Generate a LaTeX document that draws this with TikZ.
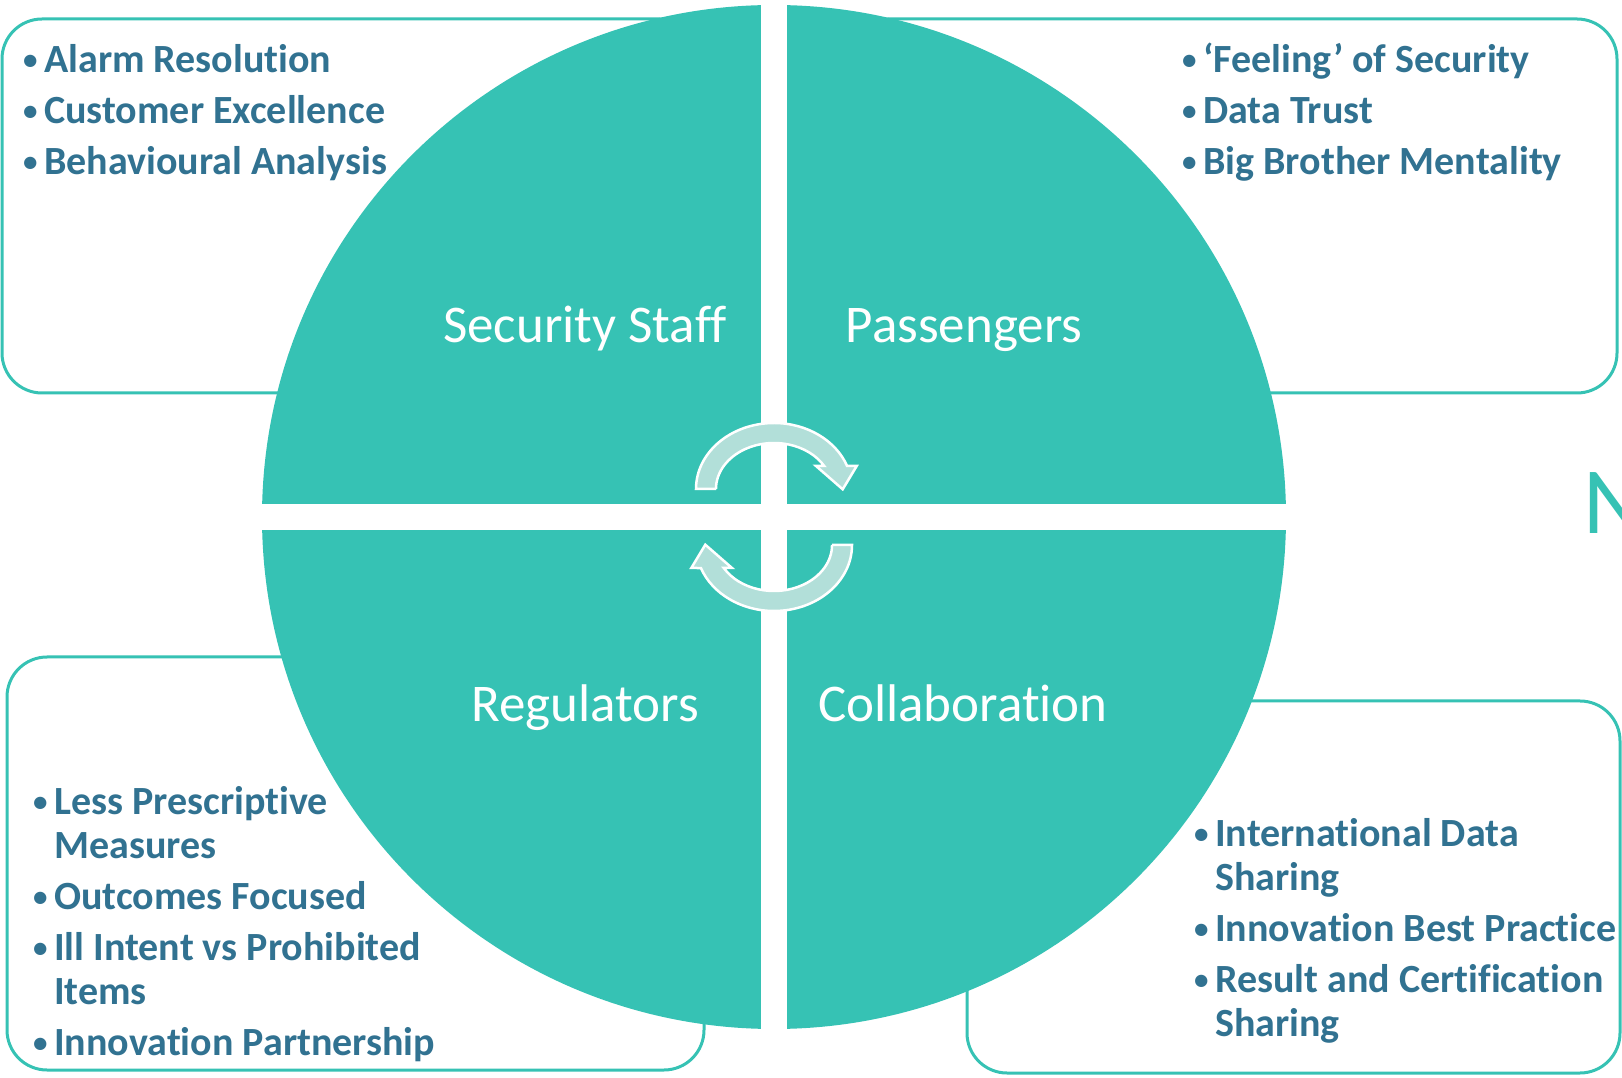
\documentclass[tikz,border=0pt]{standalone}
\usepackage{fontspec}
\setmainfont{Carlito}[Ligatures={CommonOff,ContextualOff}]
\usepackage{xcolor}

\definecolor{quad}{RGB}{54,194,180}
\definecolor{listblue}{RGB}{49,114,145}
\definecolor{arrowfill}{RGB}{178,223,217}

\newcommand{\bul}{\makebox[21pt][l]{\raisebox{3pt}{\fontsize{29}{29}\selectfont •}}}
\newcommand{\ind}{\hspace*{21pt}}
\newcommand{\firstline}{\rule{0pt}{30pt}}

\begin{document}
\begin{tikzpicture}[x=1pt,y=1pt,
  box/.style={draw=quad, line width=3pt, fill=white, rounded corners=40pt},
  quadlabel/.style={text=white, font=\fontsize{53}{60}\selectfont, anchor=base, inner sep=0pt},
  itemlist/.style={text=listblue, font=\fontsize{40}{44}\selectfont\bfseries, align=left, anchor=north west, inner sep=0pt},
  cycarrow/.style={fill=arrowfill, draw=white, line width=2.5pt}]
\useasboundingbox (0,0) rectangle (1622,1077);

% Outer boxes behind the circle
\draw[box] (2,684) rectangle (700,1058);
\draw[box] (848,684) rectangle (1617,1058);
\draw[box] (7,7) rectangle (704,420);
\draw[box] (967,4) rectangle (1620,376);

% Four quadrants
\begin{scope}
\clip (774,560) circle (512);
\fill[quad] (0,573) rectangle (761,1077);
\fill[quad] (787,573) rectangle (1622,1077);
\fill[quad] (0,0) rectangle (761,547);
\fill[quad] (787,0) rectangle (1622,547);
\end{scope}

\node[quadlabel] (staff) at (585,734.3) {Security Staff};
\node[quadlabel] (pass) at (964,734.3) {Passengers};
\node[quadlabel] (reg) at (585,355.3) {Regulators};
\node[quadlabel] (collab) at (963,355.3) {Collaboration};

% Cycle arrows
\draw[cycarrow] (716,588) -- (696,588) arc[start angle=180, end angle=20.4, x radius=78, y radius=66]
  -- (856.7,611) -- (842.7,587.7) -- (816,611) -- (824.2,611)
  arc[start angle=30, end angle=180, x radius=58, y radius=46] -- cycle;
\draw[cycarrow, rotate around={180:(774,560)}] (716,588) -- (696,588) arc[start angle=180, end angle=20.4, x radius=78, y radius=66]
  -- (856.7,611) -- (842.7,587.7) -- (816,611) -- (824.2,611)
  arc[start angle=30, end angle=180, x radius=58, y radius=46] -- cycle;

% Bullet lists
\node[itemlist] (staffpts) at (23,1034.3) {\firstline\bul Alarm Resolution\\[7pt]
  \bul Customer Excellence\\[7pt] \bul Behavioural Analysis};
\node[itemlist] (passpts) at (1182,1034.3) {\firstline\bul ‘Feeling’ of Security\\[7pt]
  \bul Data Trust\\[7pt] \bul Big Brother Mentality};
\node[itemlist] (regpts) at (33,293) {\firstline\bul Less Prescriptive\\ \ind Measures\\[7pt]
  \bul Outcomes Focused\\[7pt] \bul Ill Intent vs Prohibited\\ \ind Items\\[7pt]
  \bul Innovation Partnership};
\node[itemlist] (collabpts) at (1194,260.3) {\firstline\bul International Data\\ \ind Sharing\\[7pt]
  \bul Innovation Best Practice\\[7pt] \bul Result and Certification\\ \ind Sharing};

% Title cut off at the edge
\node[text=quad, font=\fontsize{95}{100}\selectfont, anchor=base west, inner sep=0pt] (title) at (1583,543) {N};
\end{tikzpicture}
\end{document}
